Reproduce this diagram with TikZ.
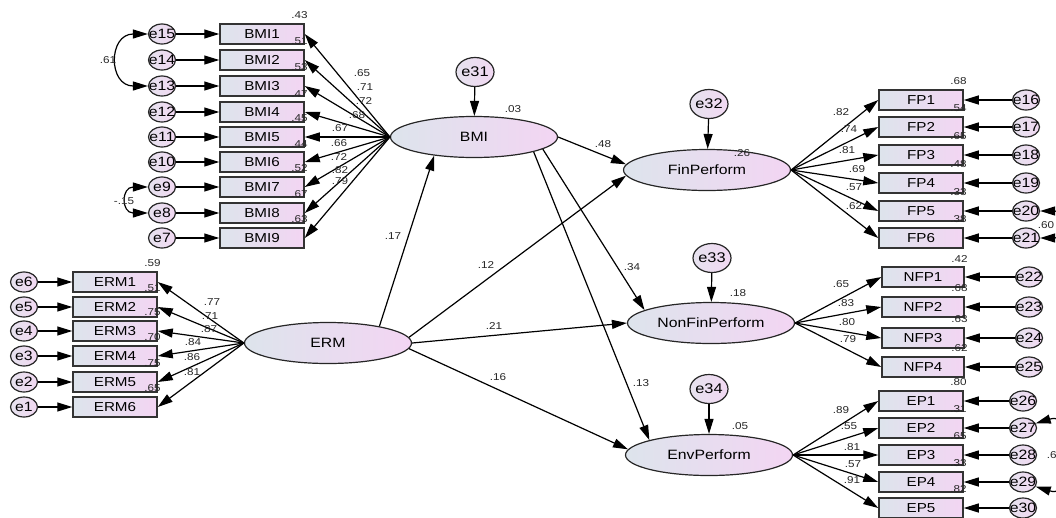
\documentclass[tikz,border=0pt]{standalone}
\usepackage{fontspec}
\setmainfont[FakeStretch=1.17]{Liberation Sans}
\usetikzlibrary{arrows.meta,shapes.geometric}
\definecolor{semblue}{HTML}{DDE4EC}
\definecolor{sempink}{HTML}{F3D5F3}
\definecolor{errblue}{HTML}{E6E2EE}
\definecolor{errpink}{HTML}{F1D8F2}
\def\etag#1{\makebox[0pt]{#1}}
\tikzset{
	obs/.style={rectangle, draw=black!80, line width=1.5pt, minimum width=84pt, minimum height=20pt, inner sep=0pt, left color=semblue, right color=sempink, font=\fontsize{13}{15}\selectfont},
	lat/.style={ellipse, draw=black!85, line width=1.2pt, minimum width=167pt, minimum height=41pt, inner sep=0pt, left color=semblue, right color=sempink, font=\fontsize{13.5}{15}\selectfont},
	err/.style={ellipse, draw=black!85, line width=1.2pt, minimum width=27pt, minimum height=20pt, inner sep=0pt, left color=errblue, right color=errpink, font=\fontsize{13.5}{15}\selectfont},
	dist/.style={err, minimum width=38pt, minimum height=29pt, font=\fontsize{14}{15}\selectfont},
	num/.style={inner sep=0pt, font=\fontsize{10}{11}\selectfont, text=black!85},
	rsq/.style={num, anchor=south east, xshift=3pt, yshift=4pt},
	reg/.style={line width=1.2pt, -{Triangle[length=15pt,width=9pt]}},
	cov/.style={line width=1.2pt, {Triangle[length=15pt,width=9pt]}-{Triangle[length=15pt,width=9pt]}}
}
\begin{document}
\begin{tikzpicture}[x=1pt, y=-1pt]
			%%%%% START %%%%%
			\useasboundingbox (0, 0) rectangle (1056, 517);
			\clip (0, 0) rectangle (1056, 517);
			
			% latent variables
			\node[lat] (BMI) at (474, 137) {BMI};
			\node[lat] (ERM) at (328, 343) {ERM};
			\node[lat] (FinPerform) at (707, 170) {FinPerform};
			\node[lat] (NonFinPerform) at (711, 323) {NonFinPerform};
			\node[lat] (EnvPerform) at (709, 455) {EnvPerform};
			
			\node[dist] (e31) at (475, 72) {\etag{e31}};
			\node[dist] (e32) at (709, 104) {\etag{e32}};
			\node[dist] (e33) at (712, 258) {\etag{e33}};
			\node[dist] (e34) at (709, 389) {\etag{e34}};
			\draw[reg] (e31) -- (BMI);
			\draw[reg] (e32) -- (FinPerform);
			\draw[reg] (e33) -- (NonFinPerform);
			\draw[reg] (e34) -- (EnvPerform);
			\node[num] at (513, 109) {.03};
			\node[num] at (742, 153) {.26};
			\node[num] at (738, 293) {.18};
			\node[num] at (740, 426) {.05};
			
			% BMI items
			\node[obs] (BMI1) at (262, 34) {BMI1};
			\node[obs] (BMI2) at (262, 60) {BMI2};
			\node[obs] (BMI3) at (262, 86) {BMI3};
			\node[obs] (BMI4) at (262, 112) {BMI4};
			\node[obs] (BMI5) at (262, 137) {BMI5};
			\node[obs] (BMI6) at (262, 162) {BMI6};
			\node[obs] (BMI7) at (262, 187) {BMI7};
			\node[obs] (BMI8) at (262, 213) {BMI8};
			\node[obs] (BMI9) at (262, 238) {BMI9};
			
			\node[err] (e15) at (162, 34) {\etag{e15}};
			\node[err] (e14) at (162, 60) {\etag{e14}};
			\node[err] (e13) at (162, 86) {\etag{e13}};
			\node[err] (e12) at (162, 112) {\etag{e12}};
			\node[err] (e11) at (162, 137) {\etag{e11}};
			\node[err] (e10) at (162, 162) {\etag{e10}};
			\node[err] (e9) at (162, 187) {\etag{e9}};
			\node[err] (e8) at (162, 213) {\etag{e8}};
			\node[err] (e7) at (162, 238) {\etag{e7}};
			
			\draw[reg] (e15) -- (BMI1);
			\draw[reg] (e14) -- (BMI2);
			\draw[reg] (e13) -- (BMI3);
			\draw[reg] (e12) -- (BMI4);
			\draw[reg] (e11) -- (BMI5);
			\draw[reg] (e10) -- (BMI6);
			\draw[reg] (e9) -- (BMI7);
			\draw[reg] (e8) -- (BMI8);
			\draw[reg] (e7) -- (BMI9);
			
			\draw[cov] (e15.west) .. controls (108, 34) and (108, 86) .. (e13.west);
			\node[num] at (108, 60) {.61};
			\draw[cov] (e9.west) .. controls (121, 187) and (121, 213) .. (e8.west);
			\node[num] at (124, 201) {-.15};
			
			\draw[reg] (BMI.west) -- (BMI1.east);
			\draw[reg] (BMI.west) -- (BMI2.east);
			\draw[reg] (BMI.west) -- (BMI3.east);
			\draw[reg] (BMI.west) -- (BMI4.east);
			\draw[reg] (BMI.west) -- (BMI5.east);
			\draw[reg] (BMI.west) -- (BMI6.east);
			\draw[reg] (BMI.west) -- (BMI7.east);
			\draw[reg] (BMI.west) -- (BMI8.east);
			\draw[reg] (BMI.west) -- (BMI9.east);
			
			\node[num] at (362, 73) {.65};
			\node[num] at (365, 87) {.71};
			\node[num] at (364, 101) {.72};
			\node[num] at (357, 115) {.68};
			\node[num] at (340, 128) {.67};
			\node[num] at (339, 143) {.66};
			\node[num] at (339, 157) {.72};
			\node[num] at (340, 170) {.82};
			\node[num] at (340, 181) {.79};
			
			\node[rsq] at (BMI1.north east) {.43};
			\node[rsq] at (BMI2.north east) {.51};
			\node[rsq] at (BMI3.north east) {.53};
			\node[rsq] at (BMI4.north east) {.47};
			\node[rsq] at (BMI5.north east) {.45};
			\node[rsq] at (BMI6.north east) {.44};
			\node[rsq] at (BMI7.north east) {.52};
			\node[rsq] at (BMI8.north east) {.67};
			\node[rsq] at (BMI9.north east) {.63};
			
			% ERM items
			\node[obs] (ERM1) at (115, 282) {ERM1};
			\node[obs] (ERM2) at (115, 307) {ERM2};
			\node[obs] (ERM3) at (115, 331) {ERM3};
			\node[obs] (ERM4) at (115, 356) {ERM4};
			\node[obs] (ERM5) at (115, 382) {ERM5};
			\node[obs] (ERM6) at (115, 407) {ERM6};
			
			\node[err] (e6) at (24, 282) {\etag{e6}};
			\node[err] (e5) at (24, 307) {\etag{e5}};
			\node[err] (e4) at (24, 331) {\etag{e4}};
			\node[err] (e3) at (24, 356) {\etag{e3}};
			\node[err] (e2) at (24, 382) {\etag{e2}};
			\node[err] (e1) at (24, 407) {\etag{e1}};
			
			\draw[reg] (e6) -- (ERM1);
			\draw[reg] (e5) -- (ERM2);
			\draw[reg] (e4) -- (ERM3);
			\draw[reg] (e3) -- (ERM4);
			\draw[reg] (e2) -- (ERM5);
			\draw[reg] (e1) -- (ERM6);
			
			\draw[reg] (ERM.west) -- (ERM1.east);
			\draw[reg] (ERM.west) -- (ERM2.east);
			\draw[reg] (ERM.west) -- (ERM3.east);
			\draw[reg] (ERM.west) -- (ERM4.east);
			\draw[reg] (ERM.west) -- (ERM5.east);
			\draw[reg] (ERM.west) -- (ERM6.east);
			
			\node[num] at (212, 302) {.77};
			\node[num] at (210, 316) {.71};
			\node[num] at (209, 329) {.87};
			\node[num] at (193, 342) {.84};
			\node[num] at (192, 357) {.86};
			\node[num] at (192, 372) {.81};
			
			\node[rsq] at (ERM1.north east) {.59};
			\node[rsq] at (ERM2.north east) {.51};
			\node[rsq] at (ERM3.north east) {.75};
			\node[rsq] at (ERM4.north east) {.70};
			\node[rsq] at (ERM5.north east) {.75};
			\node[rsq] at (ERM6.north east) {.65};
			
			% structural paths
			\draw[reg] (ERM.18) -- (BMI.205);
			\node[num] at (393, 236) {.17};
			\draw[reg] (BMI.east) -- (FinPerform.176);
			\node[num] at (603, 144) {.48};
			\draw[reg] (ERM.4) -- (FinPerform.184);
			\node[num] at (486, 265) {.12};
			\draw[reg] (BMI.-10) -- (NonFinPerform.169);
			\node[num] at (632, 267) {.34};
			\draw[reg] (ERM.east) -- (NonFinPerform.west);
			\node[num] at (494, 326) {.21};
			\draw[reg] (ERM.-4) -- (EnvPerform.176);
			\node[num] at (498, 377) {.16};
			\draw[reg] (BMI.-14) -- (EnvPerform.166);
			\node[num] at (641, 383) {.13};
			
			% FinPerform items
			\node[obs] (FP1) at (921, 100) {FP1};
			\node[obs] (FP2) at (921, 127) {FP2};
			\node[obs] (FP3) at (921, 155) {FP3};
			\node[obs] (FP4) at (921, 183) {FP4};
			\node[obs] (FP5) at (921, 211) {FP5};
			\node[obs] (FP6) at (921, 238) {FP6};
			
			\node[err] (e16) at (1026, 100) {\etag{e16}};
			\node[err] (e17) at (1026, 127) {\etag{e17}};
			\node[err] (e18) at (1026, 155) {\etag{e18}};
			\node[err] (e19) at (1026, 183) {\etag{e19}};
			\node[err] (e20) at (1026, 211) {\etag{e20}};
			\node[err] (e21) at (1026, 238) {\etag{e21}};
			
			\draw[reg] (e16) -- (FP1);
			\draw[reg] (e17) -- (FP2);
			\draw[reg] (e18) -- (FP3);
			\draw[reg] (e19) -- (FP4);
			\draw[reg] (e20) -- (FP5);
			\draw[reg] (e21) -- (FP6);
			\draw[cov] (e20.east) .. controls (1068, 211) and (1068, 238) .. (e21.east);
			\node[num] at (1046, 225) {.60};
			
			\draw[reg] (FinPerform.east) -- (FP1.west);
			\draw[reg] (FinPerform.east) -- (FP2.west);
			\draw[reg] (FinPerform.east) -- (FP3.west);
			\draw[reg] (FinPerform.east) -- (FP4.west);
			\draw[reg] (FinPerform.east) -- (FP5.west);
			\draw[reg] (FinPerform.east) -- (FP6.west);
			
			\node[num] at (841, 112) {.82};
			\node[num] at (849, 129) {.74};
			\node[num] at (847, 150) {.81};
			\node[num] at (857, 169) {.69};
			\node[num] at (854, 187) {.57};
			\node[num] at (854, 206) {.62};
			
			\node[rsq] at (FP1.north east) {.68};
			\node[rsq] at (FP2.north east) {.54};
			\node[rsq] at (FP3.north east) {.65};
			\node[rsq] at (FP4.north east) {.48};
			\node[rsq] at (FP5.north east) {.33};
			\node[rsq] at (FP6.north east) {.38};
			
			% NonFinPerform items
			\node[obs, minimum width=82pt] (NFP1) at (923, 277) {NFP1};
			\node[obs, minimum width=82pt] (NFP2) at (923, 307) {NFP2};
			\node[obs, minimum width=82pt] (NFP3) at (923, 338) {NFP3};
			\node[obs, minimum width=82pt] (NFP4) at (923, 367) {NFP4};
			
			\node[err] (e22) at (1029, 277) {\etag{e22}};
			\node[err] (e23) at (1029, 307) {\etag{e23}};
			\node[err] (e24) at (1029, 338) {\etag{e24}};
			\node[err] (e25) at (1029, 367) {\etag{e25}};
			
			\draw[reg] (e22) -- (NFP1);
			\draw[reg] (e23) -- (NFP2);
			\draw[reg] (e24) -- (NFP3);
			\draw[reg] (e25) -- (NFP4);
			
			\draw[reg] (NonFinPerform.east) -- (NFP1.west);
			\draw[reg] (NonFinPerform.east) -- (NFP2.west);
			\draw[reg] (NonFinPerform.east) -- (NFP3.west);
			\draw[reg] (NonFinPerform.east) -- (NFP4.west);
			
			\node[num] at (841, 284) {.65};
			\node[num] at (846, 303) {.83};
			\node[num] at (847, 322) {.80};
			\node[num] at (848, 339) {.79};
			
			\node[rsq] at (NFP1.north east) {.42};
			\node[rsq] at (NFP2.north east) {.68};
			\node[rsq] at (NFP3.north east) {.63};
			\node[rsq] at (NFP4.north east) {.62};
			
			% EnvPerform items
			\node[obs] (EP1) at (921, 401) {EP1};
			\node[obs] (EP2) at (921, 428) {EP2};
			\node[obs] (EP3) at (921, 455) {EP3};
			\node[obs] (EP4) at (921, 482) {EP4};
			\node[obs] (EP5) at (921, 508) {EP5};
			
			\node[err] (e26) at (1023, 401) {\etag{e26}};
			\node[err] (e27) at (1023, 428) {\etag{e27}};
			\node[err] (e28) at (1023, 455) {\etag{e28}};
			\node[err] (e29) at (1023, 482) {\etag{e29}};
			\node[err] (e30) at (1023, 508) {\etag{e30}};
			
			\draw[reg] (e26) -- (EP1);
			\draw[reg] (e27) -- (EP2);
			\draw[reg] (e28) -- (EP3);
			\draw[reg] (e29) -- (EP4);
			\draw[reg] (e30) -- (EP5);
			\draw[cov] (e27.20) .. controls (1080, 410) and (1080, 500) .. (e29.-20);
			\node[num] at (1055, 455) {.65};
			
			\draw[reg] (EnvPerform.east) -- (EP1.west);
			\draw[reg] (EnvPerform.east) -- (EP2.west);
			\draw[reg] (EnvPerform.east) -- (EP3.west);
			\draw[reg] (EnvPerform.east) -- (EP4.west);
			\draw[reg] (EnvPerform.east) -- (EP5.west);
			
			\node[num] at (841, 410) {.89};
			\node[num] at (849, 426) {.55};
			\node[num] at (852, 447) {.81};
			\node[num] at (853, 464) {.57};
			\node[num] at (852, 480) {.91};
			
			\node[rsq] at (EP1.north east) {.80};
			\node[rsq] at (EP2.north east) {.31};
			\node[rsq] at (EP3.north east) {.65};
			\node[rsq] at (EP4.north east) {.33};
			\node[rsq] at (EP5.north east) {.82};
			%%%%% END %%%%%
\end{tikzpicture}
\end{document}
